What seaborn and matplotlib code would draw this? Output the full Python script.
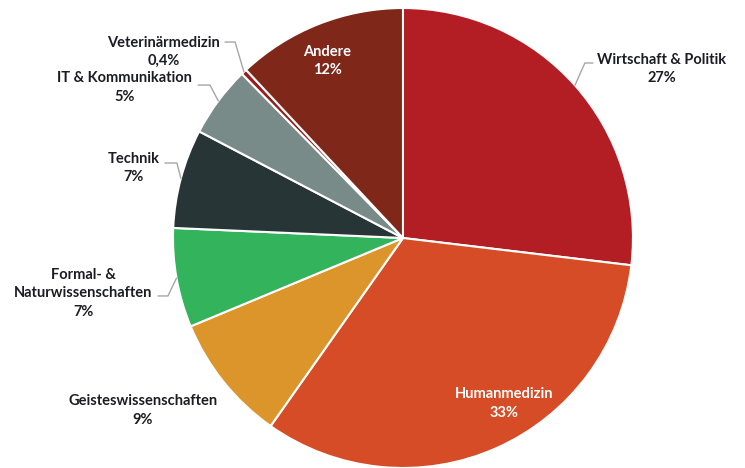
"""
Verteilung der Studienrichtungen - Tortendiagramm
"""
import numpy as np
import seaborn as sns
import matplotlib.pyplot as plt

sns.set_theme(style="white")
plt.rcParams['font.family'] = ['Lato', 'DejaVu Sans']

# Daten (im Uhrzeigersinn ab 12 Uhr)
categories = ['Wirtschaft & Politik', 'Humanmedizin', 'Geisteswissenschaften',
              'Formal- &\nNaturwissenschaften', 'Technik', 'IT & Kommunikation',
              'Veterinärmedizin', 'Andere']
shares = [27, 33, 9, 7, 7, 5, 0.4, 12]
colors = ['#B31D24', '#D54C26', '#DC952B', '#33B35B', '#283536', '#798B89',
          '#9A1C1C', '#7F2718']

# Beschriftung: Position des Textblocks (Datenkoordinaten), Farbe, Knick der Hilfslinie
LABEL_POS = {
    'Wirtschaft & Politik': (1.125, 0.735),
    'Humanmedizin': (0.44, -0.72),
    'Geisteswissenschaften': (-1.13, -0.75),
    'Formal- &\nNaturwissenschaften': (-1.39, -0.24),
    'Technik': (-1.17, 0.305),
    'IT & Kommunikation': (-1.21, 0.655),
    'Veterinärmedizin': (-1.04, 0.81),
    'Andere': (-0.33, 0.77),
}
WHITE_LABELS = {'Humanmedizin', 'Andere'}
ELBOWS = {
    'Wirtschaft & Politik': [(0.791, 0.761), (0.826, 0.761)],
    'Formal- &\nNaturwissenschaften': [(-1.022, -0.252), (-1.065, -0.252)],
    'Technik': [(-0.983, 0.326), (-1.035, 0.326)],
    'IT & Kommunikation': [(-0.839, 0.665), (-0.891, 0.665)],
    'Veterinärmedizin': [(-0.73, 0.852), (-0.774, 0.852)],
}


def fmt_pct(v):
    if float(v).is_integer():
        return f"{v:.0f}%"
    return f"{v}%".replace('.', ',')


fig = plt.figure(figsize=(7.45, 4.68), dpi=100)
ax = fig.add_axes([0.2322, 0.0, 0.6174, 0.9829])

wedges, _ = ax.pie(shares, colors=colors, startangle=90, counterclock=False,
                   wedgeprops={'edgecolor': 'white', 'linewidth': 1.5})
ax.set_xlim(-1, 1)
ax.set_ylim(-1, 1)

for w, name, v in zip(wedges, categories, shares):
    tx, ty = LABEL_POS[name]
    color = 'white' if name in WHITE_LABELS else '#1C1C24'
    ax.text(tx, ty, f"{name}\n{fmt_pct(v)}", ha='center', va='center',
            fontsize=10.5, fontweight='bold', color=color, linespacing=1.4,
            clip_on=False)
    if name in ELBOWS:
        mid = np.deg2rad((w.theta1 + w.theta2) / 2)
        pts = [(np.cos(mid), np.sin(mid))] + ELBOWS[name]
        xs, ys = zip(*pts)
        ax.plot(xs, ys, color='#A6A6A6', lw=1, clip_on=False)

ax.set_aspect('auto')
ax.axis('off')
fig.savefig('out.png', dpi=100)
